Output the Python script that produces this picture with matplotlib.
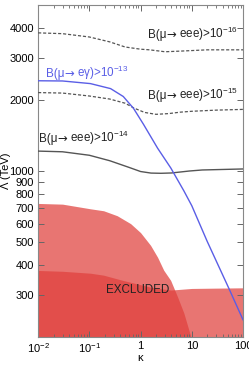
import numpy as np
import matplotlib
matplotlib.use("Agg")
import matplotlib.pyplot as plt
from matplotlib.ticker import FixedLocator, NullFormatter, LogLocator

plt.rcParams['font.family'] = ['Liberation Sans', 'DejaVu Sans']
plt.rcParams['mathtext.fontset'] = 'custom'
plt.rcParams['mathtext.rm'] = 'Liberation Sans'
plt.rcParams['mathtext.it'] = 'Liberation Sans:italic'
plt.rcParams['mathtext.bf'] = 'Liberation Sans:bold'

# Data
k16 = [0.01, 0.03, 0.1, 0.25, 0.5, 1.0, 1.5, 3.0, 6.0, 20, 100]
lam_eee16 = [3820, 3790, 3670, 3500, 3330, 3260, 3240, 3180, 3200, 3240, 3240]

k15 = [0.01, 0.03, 0.1, 0.25, 0.5, 0.75, 1.2, 2.0, 3.5, 6.0, 10, 30, 100]
lam_eee15 = [2140, 2130, 2070, 2010, 1930, 1840, 1765, 1733, 1745, 1770, 1785, 1805, 1818]

k14 = [0.01, 0.03, 0.1, 0.25, 0.6, 1.0, 1.6, 2.5, 4.0, 9.0, 16, 40, 100]
lam_eee14 = [1213, 1205, 1165, 1105, 1035, 995, 980, 978, 981, 1000, 1010, 1015, 1020]

keg = [0.01, 0.03, 0.105, 0.26, 0.46, 0.73, 1.14, 2.15, 3.9, 7.0, 10, 20, 53, 100]
lam_eg13 = [2400, 2395, 2335, 2224, 2060, 1835, 1573, 1248, 1029, 825, 714, 505, 320, 236]

excl1_kappa = [0.01, 0.03, 0.105, 0.19, 0.35, 0.64, 1.0, 1.57, 2.15, 2.83, 3.87, 5.3, 7.0, 9.6]
excl1_top = [730, 725, 693, 680, 648, 600, 550, 486, 433, 382, 346, 294, 252, 200]

excl2_kappa = [0.01, 0.03, 0.105, 0.19, 0.45, 1.57, 3.9, 10, 30, 100]
excl2_top = [381, 378, 371, 364, 346, 324, 315, 320, 321, 322]

labels = [
    ('eee', '-16', 1.37, 3742, '#222222'),
    ('eee', '-15', 1.37, 2080, '#222222'),
    ('eee', '-14', 0.0105, 1361, '#222222'),
    ('eγ', '-13', 0.0143, 2570, '#5a5ee6'),
]

xticks = [0.01, 0.1, 1, 10, 100]
xticklabels = [r'10$^{-2}$', r'10$^{-1}$', '1', '10', '100']
yticks = [300, 400, 500, 600, 700, 800, 900, 1000, 2000, 3000, 4000]

fig = plt.figure(figsize=(2.49, 3.65), dpi=100)
ax = fig.add_axes([0.153, 0.077, 0.823, 0.909])
ax.set_xscale('log')
ax.set_yscale('log')
ax.set_xlim(0.01, 100)
ax.set_ylim(200, 5000)

red = (0.878, 0.251, 0.235)
ax.fill_between(excl1_kappa, 100, excl1_top, color=red, alpha=0.72, lw=0, zorder=1)
ax.fill_between(excl2_kappa, 100, excl2_top, color=red, alpha=0.72, lw=0, zorder=1)

ax.plot(k16, lam_eee16, color='#555555', lw=0.9, ls=(0, (2.5, 1.5)), zorder=3)
ax.plot(k15, lam_eee15, color='#555555', lw=0.9, ls=(0, (2.5, 1.5)), zorder=3)
ax.plot(k14, lam_eee14, color='#555555', lw=1.0, zorder=3)
ax.plot(keg, lam_eg13, color='#5a5ee6', lw=1.0, zorder=4)

fs = 8
lfs = 8.4
fig.canvas.draw()
renderer = fig.canvas.get_renderer()


def rich_text(x, y, parts, color):
    # parts: list of (string, family); placed one after another on a shared baseline
    disp = ax.transData.transform((x, y))
    xd, yd = disp
    inv = ax.transData.inverted()
    for s, fam in parts:
        px, py = inv.transform((xd, yd))
        t = ax.text(px, py, s, fontsize=lfs, color=color, family=fam,
                    va='baseline', ha='left', zorder=5)
        bb = t.get_window_extent(renderer=renderer)
        xd = bb.x1


for proc, expo, lx, ly, col in labels:
    # baseline ~3px below the visual centre
    yb = ax.transData.inverted().transform(ax.transData.transform((lx, ly)) - np.array([0, 3]))[1]
    rich_text(lx, yb, [('B(μ', ['Liberation Sans']), ('→', ['DejaVu Sans']),
                       (' ' + proc + ')>10$^{' + expo + '}$', ['Liberation Sans'])], col)

ax.text(0.87, 315, 'EXCLUDED', fontsize=lfs, color='#222222', ha='center', va='center', zorder=5)

ax.xaxis.set_major_locator(FixedLocator(xticks))
ax.set_xticklabels(xticklabels)
ax.xaxis.set_minor_locator(LogLocator(base=10, subs=np.arange(2, 10)))
ax.xaxis.set_minor_formatter(NullFormatter())
ax.yaxis.set_major_locator(FixedLocator(yticks))
ax.set_yticklabels([str(v) for v in yticks])
ax.yaxis.set_minor_locator(FixedLocator([]))
ax.yaxis.set_minor_formatter(NullFormatter())

ax.tick_params(axis='both', which='both', direction='in', top=True, right=True,
               labelsize=fs, color='#666666', pad=3)
ax.tick_params(axis='both', which='major', length=4, width=0.7)
ax.tick_params(axis='both', which='minor', length=2, width=0.6)
for s in ax.spines.values():
    s.set_color('#888888')
    s.set_linewidth(0.8)

ax.set_xlabel('κ', fontsize=fs)
ax.xaxis.set_label_coords(0.5, -0.063)
ax.xaxis.label.set_va('center')
ax.set_ylabel('Λ (TeV)', fontsize=fs)
ax.yaxis.set_label_coords(-0.158, 0.5)
ax.yaxis.label.set_va('center')

fig.savefig('out.png', dpi=100)
